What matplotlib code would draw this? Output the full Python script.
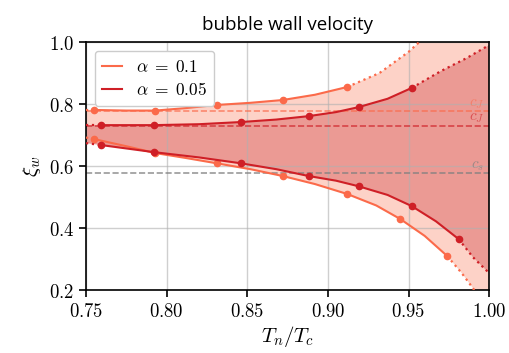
import matplotlib
matplotlib.use("Agg")
import matplotlib.pyplot as plt
from matplotlib.lines import Line2D

plt.rcParams["mathtext.fontset"] = "cm"

# wall velocity bounds vs Tn/Tc, alpha = 0.1
tn_01 = [0.755, 0.793, 0.831, 0.872, 0.912, 0.945, 0.974]
xi_01_up = [0.781, 0.779, 0.797, 0.813, 0.855]
xi_01_lo = [0.687, 0.642, 0.609, 0.568, 0.510, 0.429, 0.310]

# alpha = 0.05
tn_005 = [0.759, 0.792, 0.846, 0.888, 0.919, 0.952, 0.981]
xi_005_up = [0.732, 0.732, 0.742, 0.761, 0.790, 0.852]
xi_005_lo = [0.668, 0.645, 0.609, 0.568, 0.535, 0.471, 0.365]

# fitted curves between the points
fit_01_up_t = [0.755, 0.775, 0.793, 0.812, 0.831, 0.852, 0.872, 0.892, 0.912]
fit_01_up_x = [0.781, 0.779, 0.779, 0.787, 0.797, 0.804, 0.813, 0.830, 0.855]
fit_01_lo_t = [0.755, 0.775, 0.793, 0.812, 0.831, 0.852, 0.872, 0.892, 0.912, 0.930, 0.945, 0.960, 0.974]
fit_01_lo_x = [0.687, 0.664, 0.642, 0.626, 0.609, 0.590, 0.568, 0.542, 0.510, 0.473, 0.429, 0.375, 0.310]
fit_005_up_t = [0.759, 0.792, 0.820, 0.846, 0.868, 0.888, 0.905, 0.919, 0.937, 0.952]
fit_005_up_x = [0.732, 0.732, 0.735, 0.742, 0.750, 0.761, 0.774, 0.790, 0.817, 0.852]
fit_005_lo_t = [0.759, 0.792, 0.820, 0.846, 0.868, 0.888, 0.905, 0.919, 0.937, 0.952, 0.967, 0.981]
fit_005_lo_x = [0.668, 0.645, 0.628, 0.609, 0.590, 0.568, 0.553, 0.535, 0.507, 0.471, 0.422, 0.365]

# extrapolated pieces (dotted)
ext_01_up_t = [0.912, 0.932, 0.950, 0.958, 0.975, 1.0]
ext_01_up_x = [0.855, 0.900, 0.968, 1.006, 1.08, 1.2]
ext_01_lo_t = [0.974, 0.983, 0.990, 1.0]
ext_01_lo_x = [0.310, 0.255, 0.206, 0.13]
ext_005_up_t = [0.952, 0.970, 0.986, 1.0]
ext_005_up_x = [0.852, 0.906, 0.948, 0.990]
ext_005_lo_t = [0.981, 0.990, 1.0]
ext_005_lo_x = [0.365, 0.306, 0.255]
left_t = 0.75
left_01 = [0.781, 0.692]
left_005 = [0.732, 0.674]

cs = 0.5773
cj_01 = 0.7766
cj_005 = 0.7300

xticks = [0.75, 0.80, 0.85, 0.90, 0.95, 1.00]
yticks = [0.2, 0.4, 0.6, 0.8, 1.0]

c1 = "#fb6a4a"
c2 = "#cf1f26"

fig = plt.figure(figsize=(5.09, 3.53), dpi=100)
ax = fig.add_axes([0.169, 0.178, 0.792, 0.703])


def region(ut, ux, lt, lx, eut, eux, elt, elx, left):
    xs = [left_t] + ut + eut[1:] + elt[::-1][:-1] + lt[::-1] + [left_t]
    ys = [left[0]] + ux + eux[1:] + elx[::-1][:-1] + lx[::-1] + [left[1]]
    return xs, ys


xs, ys = region(fit_01_up_t, fit_01_up_x, fit_01_lo_t, fit_01_lo_x,
                ext_01_up_t, ext_01_up_x, ext_01_lo_t, ext_01_lo_x, left_01)
ax.fill(xs, ys, color="#fdd2c7", lw=0, zorder=0.2)
xs, ys = region(fit_005_up_t, fit_005_up_x, fit_005_lo_t, fit_005_lo_x,
                ext_005_up_t, ext_005_up_x, ext_005_lo_t, ext_005_lo_x, left_005)
ax.fill(xs, ys, color="#eb9a94", lw=0, zorder=0.3)

ax.grid(True, color="#b0b0b0", alpha=0.6, lw=1)
ax.set_axisbelow(True)

curves = [
    (tn_01, xi_01_up, xi_01_lo, fit_01_up_t, fit_01_up_x, fit_01_lo_t, fit_01_lo_x,
     ext_01_up_t, ext_01_up_x, ext_01_lo_t, ext_01_lo_x, left_01, c1),
    (tn_005, xi_005_up, xi_005_lo, fit_005_up_t, fit_005_up_x, fit_005_lo_t, fit_005_lo_x,
     ext_005_up_t, ext_005_up_x, ext_005_lo_t, ext_005_lo_x, left_005, c2),
]
for tn, up, lo, ut, ux, lt, lx, eut, eux, elt, elx, left, c in curves:
    ax.plot(ut, ux, "-", color=c, lw=1.5, zorder=3)
    ax.plot(lt, lx, "-", color=c, lw=1.5, zorder=3)
    ax.plot(tn[:len(up)], up, "o", color=c, ms=4.5, zorder=3)
    ax.plot(tn, lo, "o", color=c, ms=4.5, zorder=3)
    ax.plot(eut, eux, ":", color=c, lw=1.6, zorder=3)
    ax.plot(elt, elx, ":", color=c, lw=1.6, zorder=3)
    ax.plot([left_t, tn[0]], [left[0], up[0]], ":", color=c, lw=1.6, zorder=3)
    ax.plot([left_t, tn[0]], [left[1], lo[0]], ":", color=c, lw=1.6, zorder=3)

ax.axhline(cj_01, color=c1, ls="--", lw=1.2, alpha=0.7, zorder=2)
ax.axhline(cj_005, color=c2, ls="--", lw=1.2, alpha=0.7, zorder=2)
ax.axhline(cs, color="gray", ls="--", lw=1.2, alpha=0.8, zorder=2)
ax.text(0.997, cj_01 + 0.026, r"$c_J$", color=c1, alpha=0.55, fontsize=11, ha="right", va="center")
ax.text(0.997, cj_005 + 0.028, r"$c_J$", color=c2, alpha=0.6, fontsize=11, ha="right", va="center")
ax.text(0.997, cs + 0.024, r"$c_s$", color="gray", alpha=0.7, fontsize=11, ha="right", va="center")

ax.set_xlim(0.75, 1.0)
ax.set_ylim(0.2, 1.0)
ax.set_xticks(xticks)
ax.set_xticklabels([f"${v:.2f}$" for v in xticks])
ax.set_yticks(yticks)
ax.set_yticklabels([f"${v:.1f}$" for v in yticks])
ax.tick_params(labelsize=13.5, length=5, width=1.2, direction="out")
for s in ax.spines.values():
    s.set_linewidth(1.2)

ax.set_xlabel(r"$T_n/T_c$", fontsize=15, labelpad=2)
ax.set_ylabel(r"$\xi_w$", fontsize=15, labelpad=4)
ax.set_title("bubble wall velocity", fontsize=13.5, family="Open Sans", pad=9)

handles = [Line2D([], [], color=c1, lw=1.5), Line2D([], [], color=c2, lw=1.5)]
ax.legend(handles, [r"$\alpha\;=\;0.1$", r"$\alpha\;=\;0.05$"], loc="upper left",
          fontsize=12.5, handlelength=1.2, borderpad=0.4, labelspacing=0.3,
          edgecolor="#cccccc", framealpha=1)

fig.savefig("out.png", dpi=100)
